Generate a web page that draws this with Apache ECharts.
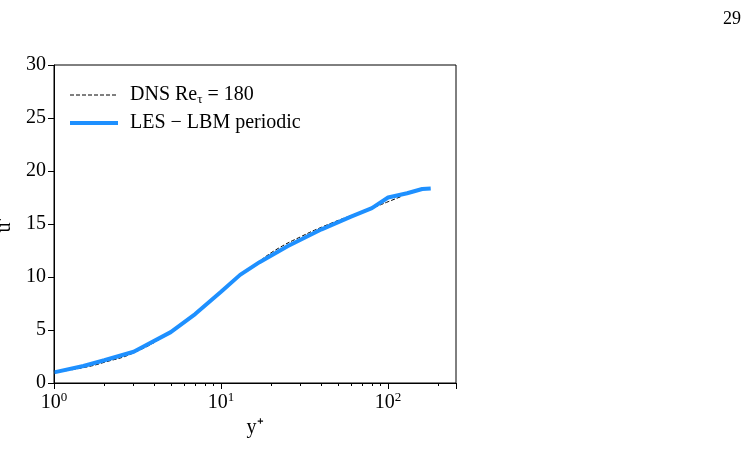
<!DOCTYPE html>
<html><head><meta charset="utf-8">
<script src="https://cdn.jsdelivr.net/npm/echarts@6/dist/echarts.min.js"></script>
<style>html,body{margin:0;padding:0;background:#fff}#c{width:745px;height:462px}</style>
</head><body><div id="c"></div>
<script>
const dnsY = [1, 1.5, 2, 3, 5, 7, 10, 13, 17, 22, 30, 40, 60, 80, 100, 120];
const dnsU = [1.0, 1.45, 1.95, 2.85, 4.8, 6.5, 8.6, 10.1, 11.5, 12.7, 13.8, 14.7, 15.8, 16.5, 17.1, 17.6];
const lesY = [1, 1.5, 2, 3, 5, 7, 10, 13, 17, 25, 40, 60, 80, 100, 130, 160, 180];
const lesU = [1.0, 1.6, 2.15, 2.95, 4.8, 6.5, 8.6, 10.2, 11.4, 12.9, 14.5, 15.7, 16.5, 17.5, 17.9, 18.3, 18.35];
const yTicks = [0, 5, 10, 15, 20, 25, 30];
const ser = 'Liberation Serif';
const chart = echarts.init(document.getElementById('c'));
chart.setOption({
  animation: false,
  textStyle: {fontFamily: ser},
  graphic: [
    {type: 'text', right: 4, top: 10, style: {text: '29', font: '18px "Liberation Serif"', fill: '#000'}},
    {type: 'rect', shape: {x: 54, y: 65, width: 402, height: 318}, style: {fill: null, stroke: '#000', lineWidth: 1}, z: 10},
    {type: 'line', shape: {x1: 70, y1: 95, x2: 118, y2: 95}, style: {stroke: '#000', lineWidth: 1, lineDash: [4, 2]}},
    {type: 'line', shape: {x1: 70, y1: 123, x2: 118, y2: 123}, style: {stroke: '#1e90ff', lineWidth: 4}},
    {type: 'text', x: 130, y: 95, style: {text: '{n|DNS Re}{s|τ}{n| = 180}', verticalAlign: 'middle', fill: '#000',
      rich: {n: {fontSize: 20, fontFamily: ser}, s: {fontSize: 13, fontFamily: ser, padding: [10, 0, 0, 0]}}}},
    {type: 'text', x: 130, y: 123, style: {text: 'LES − LBM periodic', verticalAlign: 'middle', fill: '#000', font: '20px "Liberation Serif"'}}
  ],
  grid: {left: 54, top: 65, width: 402, height: 318, containLabel: false, outerBoundsMode: 'none'},
  xAxis: {
    type: 'log', logBase: 10, min: 1, max: 255,
    name: 'y⁺', nameLocation: 'middle', nameGap: 32, nameTextStyle: {fontSize: 20, color: '#000', fontFamily: ser},
    axisLine: {lineStyle: {color: '#000'}}, splitLine: {show: false},
    axisTick: {inside: false, length: 6, lineStyle: {color: '#000'}},
    minorTick: {show: true, splitNumber: 9, length: 3, lineStyle: {color: '#000'}},
    axisLabel: {color: '#000', fontSize: 20, fontFamily: ser, showMaxLabel: false,
      formatter: function (v) { const e = Math.round(Math.log10(v)); return '{b|10}{e|' + e + '}'; },
      rich: {b: {fontSize: 20, fontFamily: ser}, e: {fontSize: 13, fontFamily: ser, verticalAlign: 'top', padding: [0, 0, 10, 0]}}}
  },
  yAxis: {
    type: 'value', min: 0, max: 30, interval: 5,
    name: 'u⁺', nameLocation: 'middle', nameGap: 34, nameTextStyle: {fontSize: 20, color: '#000', fontFamily: ser},
    axisLine: {show: true, lineStyle: {color: '#000'}}, splitLine: {show: false},
    axisTick: {show: true, length: 6, lineStyle: {color: '#000'}},
    axisLabel: {color: '#000', fontSize: 20, fontFamily: ser, formatter: v => yTicks.includes(v) ? String(v) : ''}
  },
  series: [
    {name: 'DNS', type: 'line', showSymbol: false, smooth: true, data: dnsY.map((x, i) => [x, dnsU[i]]),
     lineStyle: {color: '#000', width: 1, type: [4, 2]}, itemStyle: {color: '#000'}},
    {name: 'LES', type: 'line', showSymbol: false, data: lesY.map((x, i) => [x, lesU[i]]),
     lineStyle: {color: '#1e90ff', width: 4}, itemStyle: {color: '#1e90ff'}}
  ]
});
</script></body></html>
